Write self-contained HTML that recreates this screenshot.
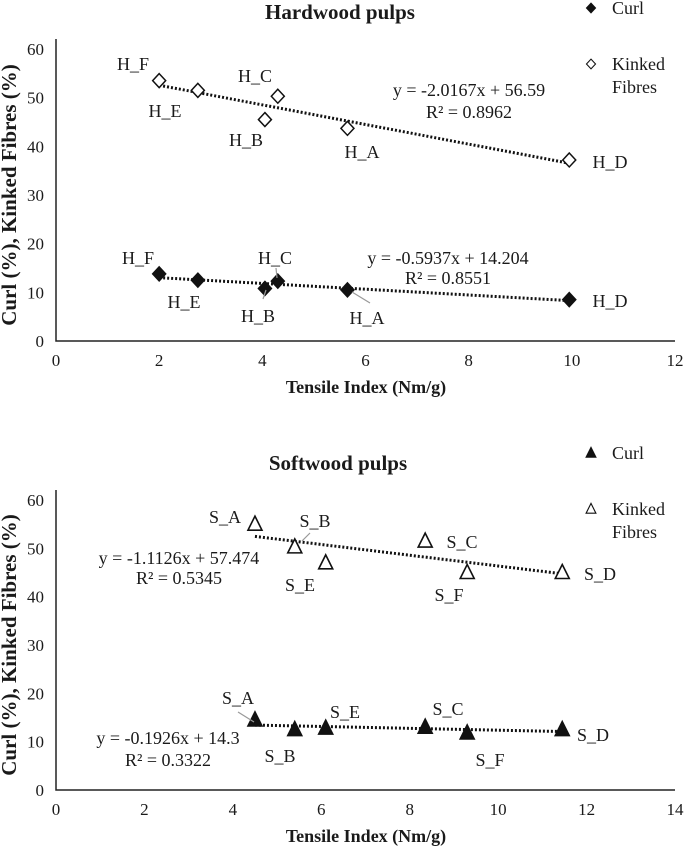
<!DOCTYPE html>
<html><head><meta charset="utf-8">
<style>
html,body{margin:0;padding:0;background:#fff;}
svg{display:block;font-family:"Liberation Serif",serif;}
text{fill:#1a1a1a;}
</style></head>
<body>
<svg id="c" width="685" height="849" viewBox="0 0 685 849"></svg>
<script>
// ---- Hardwood data ----
const hwNames = ["H_A","H_B","H_C","H_D","H_E","H_F"];
const hwTensile = [5.65, 4.05, 4.3, 9.95, 2.75, 2.0];
const hwKinked = [43.7, 45.5, 50.3, 37.2, 51.5, 53.5];
const hwCurl = [10.5, 10.8, 12.3, 8.5, 12.5, 13.8];
const hwXTicks = [0,2,4,6,8,10,12];
const hwYTicks = [0,10,20,30,40,50,60];
const hwKinkedFit = [-2.0167, 56.59];
const hwCurlFit = [-0.5937, 14.204];
// ---- Softwood data ----
const swNames = ["S_A","S_B","S_C","S_D","S_E","S_F"];
const swTensile = [4.5, 5.4, 8.35, 11.45, 6.1, 9.3];
const swKinked = [55.0, 50.3, 51.5, 45.0, 47.0, 45.0];
const swCurl = [14.5, 12.5, 13.0, 12.5, 12.8, 11.8];
const swXTicks = [0,2,4,6,8,10,12,14];
const swYTicks = [0,10,20,30,40,50,60];
const swKinkedFit = [-1.1126, 57.474];
const swCurlFit = [-0.1926, 14.3];

const NS="http://www.w3.org/2000/svg";
const svg=document.getElementById('c');
function el(tag,attrs,parent,txt){const e=document.createElementNS(NS,tag);for(const k in attrs)e.setAttribute(k,attrs[k]);if(txt!==undefined)e.textContent=txt;(parent||svg).appendChild(e);return e;}

function chart(cfg){
  const g=el('g',{});
  
  
  const xs=v=>cfg.x0+(v-cfg.xmin)*(cfg.x1-cfg.x0)/(cfg.xmax-cfg.xmin);
  const ys=v=>cfg.y0-(v-0)*(cfg.y0-cfg.y1)/60;
  const t=el('text',{x:cfg.titleX,y:cfg.titleY,'text-anchor':'middle','font-size':21,'font-weight':'bold'},g,cfg.title);
  
  
  const ax=el('path',{d:`M${cfg.x0},${cfg.y1-10} V${cfg.y0} H${cfg.x1}`,stroke:'#222','stroke-width':1.5,fill:'none'},g);
  
  
  cfg.xt.forEach(v=>{const e=el('text',{x:xs(v),y:cfg.y0+25,'text-anchor':'middle','font-size':17},g,v);
    
    });
  cfg.yt.forEach(v=>{const e=el('text',{x:cfg.x0-12,y:ys(v)+6,'text-anchor':'end','font-size':17},g,v);
    
    });
  const xt=el('text',{x:366,y:cfg.y0+52,'text-anchor':'middle','font-size':18,'font-weight':'bold'},g,'Tensile Index (Nm/g)');
  
  
  const ymid=(cfg.y0+cfg.y1)/2;
  const yt=el('text',{x:0,y:0,transform:`translate(16,${ymid}) rotate(-90)`,'text-anchor':'middle','font-size':21,'font-weight':'bold'},g,'Curl (%), Kinked Fibres (%)');
  
  
  const xmn=Math.min(...cfg.tx), xmx=Math.max(...cfg.tx);
  [[cfg.kFit,'kinked'],[cfg.cFit,'curl']].forEach(([f,n])=>{
    const l=el('line',{x1:xs(xmn),y1:ys(f[0]*xmn+f[1]),x2:xs(xmx),y2:ys(f[0]*xmx+f[1]),stroke:'#111','stroke-width':3,'stroke-dasharray':'2 2'},g);
    
    
  });
  function marker(x,y,filled,parent){
    let e;
    if(cfg.shape==='diamond'){
      e=el('path',{d:`M${x},${y-7} L${x+6.5},${y} L${x},${y+7} L${x-6.5},${y} Z`,fill:filled?'#111':'#fff',stroke:'#111','stroke-width':1.5},parent);
    }else{
      e=el('path',{d:`M${x},${y-8} L${x+7},${y+6} L${x-7},${y+6} Z`,fill:filled?'#111':'#fff',stroke:'#111','stroke-width':1.6},parent);
    }
    return e;
  }
  cfg.tx.forEach((v,i)=>{
    const m=marker(xs(v),ys(cfg.k[i]),false,g);
    
    
    const c=marker(xs(v),ys(cfg.c[i]),true,g);
    
    
  });
  cfg.labels.forEach(L=>{
    const e=el('text',{x:L[1],y:L[2]+6,'text-anchor':'middle','font-size':18},g,L[0]);
    
    
  });
  cfg.leaders.forEach(p=>{
    const e=el('line',{x1:p[0],y1:p[1],x2:p[2],y2:p[3],stroke:'#999','stroke-width':1.2},g);
    
    
  });
  cfg.eqs.forEach(E=>{
    const e=el('text',{x:E[1],y:E[2]+6,'text-anchor':'middle','font-size':18},g,E[0]);
    
    
  });
  const lg=el('g',{},g);
  
  
  const m1=marker(591,cfg.legY,true,lg);m1.setAttribute('transform',`translate(591,${cfg.legY}) scale(0.7) translate(-591,${-cfg.legY})`);
  el('text',{x:612,y:cfg.legY+6,'font-size':18},lg,'Curl');
  const m2=marker(591,cfg.legY+56,false,lg);m2.setAttribute('transform',`translate(591,${cfg.legY+56}) scale(0.7) translate(-591,${-(cfg.legY+56)})`);
  el('text',{x:612,y:cfg.legY+62,'font-size':18},lg,'Kinked');
  el('text',{x:612,y:cfg.legY+85,'font-size':18},lg,'Fibres');
}

chart({id:'hardwood',title:'Hardwood pulps',titleX:340,titleY:19,shape:'diamond',
  x0:56,x1:675,xmin:0,xmax:12,y0:341,y1:49,xt:hwXTicks,yt:hwYTicks,
  tx:hwTensile,k:hwKinked,c:hwCurl,names:hwNames,kFit:hwKinkedFit,cFit:hwCurlFit,legY:8,
  labels:[['H_F',133,64],['H_E',165,111],['H_C',255,76],['H_B',246,140],['H_A',362,152],['H_D',610,162],
          ['H_F',138,258],['H_E',184,302],['H_C',275,258],['H_B',258,316],['H_A',367,318],['H_D',610,301]],
  leaders:[[263,299,266,290],[276,268,277,278],[370,303,352,292]],
  eqs:[['y = -2.0167x + 56.59',469,90],['R² = 0.8962',469,112],['y = -0.5937x + 14.204',448,258],['R² = 0.8551',448,278]]});

chart({id:'softwood',title:'Softwood pulps',titleX:338,titleY:470,shape:'triangle',
  x0:56,x1:675,xmin:0,xmax:14,y0:790,y1:500,xt:swXTicks,yt:swYTicks,
  tx:swTensile,k:swKinked,c:swCurl,names:swNames,kFit:swKinkedFit,cFit:swCurlFit,legY:453,
  labels:[['S_A',225,517],['S_B',315,521],['S_E',300,585],['S_C',462,542],['S_F',449,595],['S_D',600,574],
          ['S_A',238,698],['S_E',345,712],['S_C',448,709],['S_B',280,756],['S_F',490,760],['S_D',593,735]],
  leaders:[[310,533,302,541],[238,712,254,722]],
  eqs:[['y = -1.1126x + 57.474',179,558],['R² = 0.5345',179,578],['y = -0.1926x + 14.3',168,738],['R² = 0.3322',168,760]]});
</script>
</body></html>
